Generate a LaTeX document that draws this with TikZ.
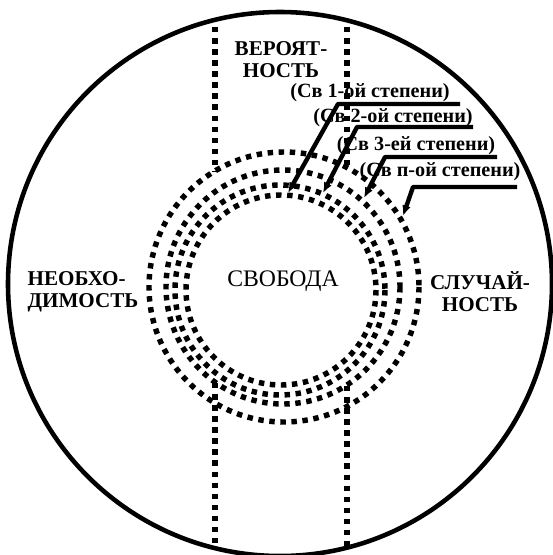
\documentclass[tikz,border=0pt]{standalone}
\usepackage{fontspec}
\setmainfont{Liberation Serif}
\usetikzlibrary{arrows.meta}
\begin{document}
\begin{tikzpicture}[x=0.02cm, y=-0.02cm, >={Latex[length=6pt,width=5pt]}, line join=round]
  \tikzset{
    dots/.style={line width=3.1pt, dash pattern=on 3.1pt off 3.2pt},
    field/.style={font=\bfseries\fontsize{12}{12.5}\selectfont, align=center, inner sep=0pt},
    degree/.style={font=\bfseries\fontsize{11.5}{12}\selectfont, inner sep=0pt},
    leader/.style={->, line width=2.5pt}
  }
  \useasboundingbox (0,0) rectangle (553,555);
  % labels first, the lines run over them
  \node[field] (veroyat) at (281,60) {ВЕРОЯТ-\\НОСТЬ};
  \node[field, align=left] (neob) at (83,292) {НЕОБХО-\\ДИМОСТЬ};
  \node[field] (sluch) at (480,292) {СЛУЧАЙ-\\НОСТЬ};
  \node[font=\fontsize{13.5}{14}\selectfont, inner sep=0pt] (svob) at (283,281) {СВОБОДА};
  \node[degree] (st1) at (370,93) {(Св 1-ой степени)};
  \node[degree] (st2) at (393,118) {(Св 2-ой степени)};
  \node[degree] (st3) at (416,146) {(Св 3-ей степени)};
  \node[degree] (stn) at (440,172) {(Св п-ой степени)};
  % outer circle
  \draw[line width=2.6pt] (280,284) circle (272);
  % the two bands
  \draw[dots] (215,27) -- (215,171);
  \draw[dots] (215,383) -- (215,548);
  \draw[dots] (347,27) -- (347,168);
  \draw[dots] (347,386) -- (347,548);
  % rings
  \draw[dots] (281,290) circle (95);
  \draw[dots] (280,290) circle (105);
  \draw[dots] (283,287) circle (117);
  \draw[dots] (284,287) circle (135);
  % leaders
  \coordinate (e1) at (460,104); \coordinate (k1) at (338,104); \coordinate (t1) at (288,193);
  \coordinate (e2) at (473,127); \coordinate (k2) at (357,127); \coordinate (t2) at (323,193);
  \coordinate (e3) at (497,157); \coordinate (k3) at (385,157); \coordinate (t3) at (364,198);
  \coordinate (en) at (517,187); \coordinate (kn) at (413,187); \coordinate (tn) at (403,216);
  \draw[leader] (e1) -- (k1) -- (t1);
  \draw[leader] (e2) -- (k2) -- (t2);
  \draw[leader] (e3) -- (k3) -- (t3);
  \draw[leader] (en) -- (kn) -- (tn);
\end{tikzpicture}
\end{document}
